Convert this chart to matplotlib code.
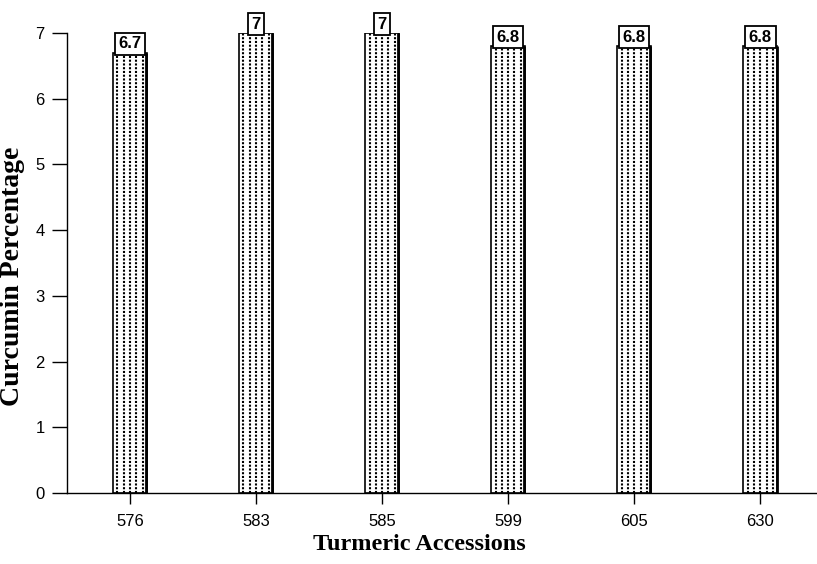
import matplotlib.pyplot as plt
import numpy as np

accessions = ['576', '583', '585', '599', '605', '630']
curcumin = [6.7, 7, 7, 6.8, 6.8, 6.8]
value_labels = ['6.7', '7', '7', '6.8', '6.8', '6.8']

fig = plt.figure(figsize=(8.17, 5.64), dpi=100)
ax = fig.add_axes([0.082, 0.126, 0.918, 0.8155])

x = np.arange(len(accessions))
width = 0.27

bars = ax.bar(x, curcumin, width=width, color='white', edgecolor='black',
              linewidth=1.2, zorder=2)

# dotted vertical fill inside each bar
for xi, v in zip(x, curcumin):
    cols = np.linspace(xi - width / 2 + 0.035, xi + width / 2 - 0.035, 5)
    ax.vlines(cols, 0, v, colors='black', linewidth=1.5,
              linestyles=(0, (1.0, 0.8)), zorder=3)
    ax.vlines(xi + width / 2 - 0.006, 0, v, colors='black', linewidth=2.0, zorder=3)

# value boxes on top of the bars
for xi, v, lab in zip(x, curcumin, value_labels):
    ax.text(xi, v + 0.02, lab, ha='center', va='bottom', fontsize=12,
            fontweight='bold', family='Liberation Sans', zorder=4,
            bbox=dict(boxstyle='square,pad=0.22', facecolor='white',
                      edgecolor='black', linewidth=1.3))

ax.set_xlim(-0.5, 5.45)
ax.set_ylim(0, 7)
ax.set_xticks(x)
ax.set_xticklabels(accessions)
ax.set_yticks(range(8))

for lab in ax.get_xticklabels() + ax.get_yticklabels():
    lab.set_family('Liberation Sans')
    lab.set_fontsize(12)

ax.tick_params(axis='x', direction='out', length=8, width=1, pad=7)
ax.tick_params(axis='y', direction='out', length=11, width=1, pad=5)

ax.spines['top'].set_visible(False)
ax.spines['right'].set_visible(False)
ax.spines['left'].set_linewidth(1)
ax.spines['bottom'].set_linewidth(1)

ax.set_xlabel('Turmeric Accessions', family='Liberation Serif',
              fontweight='bold', fontsize=17.5)
ax.set_ylabel('Curcumin Percentage', family='Liberation Serif',
              fontweight='bold', fontsize=20)
ax.xaxis.set_label_coords(0.47, -0.09)
ax.yaxis.set_label_coords(-0.056, 0.47)

fig.savefig('out.png', dpi=100)
